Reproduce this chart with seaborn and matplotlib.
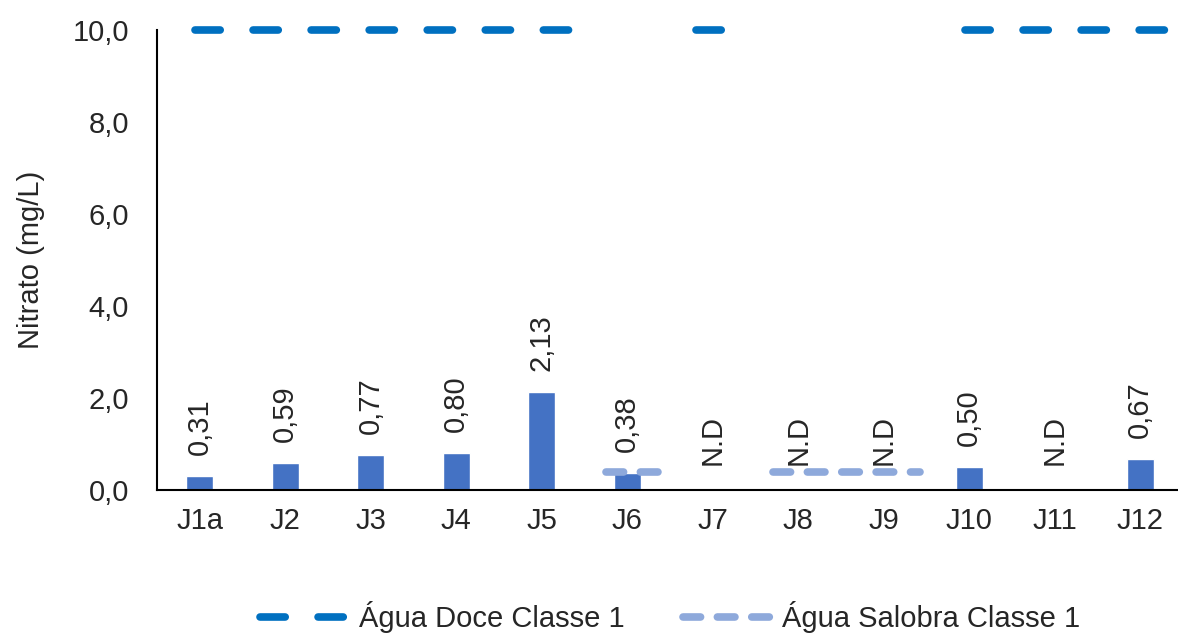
import numpy as np
import pandas as pd
import matplotlib
matplotlib.use("Agg")
import matplotlib.pyplot as plt
from matplotlib.lines import Line2D
import seaborn as sns

categories = ["J1a", "J2", "J3", "J4", "J5", "J6", "J7", "J8", "J9", "J10", "J11", "J12"]
nitrato = [0.31, 0.59, 0.77, 0.80, 2.13, 0.38, np.nan, np.nan, np.nan, 0.50, np.nan, 0.67]
doce_limit = [10, 10, 10, 10, 10, np.nan, 10, np.nan, np.nan, 10, 10, 10]
salobra_limit = [np.nan, np.nan, np.nan, np.nan, np.nan, 0.4, np.nan, 0.4, 0.4, np.nan, np.nan, np.nan]
yticks = [0, 2, 4, 6, 8, 10]

sns.set_style("white")
plt.rcParams["font.family"] = ["Liberation Sans", "DejaVu Sans"]

bar_color = "#4472C4"
doce_color = "#0070C0"
sal_color = "#8EA9DB"
FS = 21

fig = plt.figure(figsize=(11.78, 6.35), dpi=100)
ax = fig.add_axes([157 / 1178, 1 - 490 / 635, (1183 - 157) / 1178, 460 / 635])

df = pd.DataFrame({"cat": categories, "val": nitrato})
sns.barplot(data=df, x="cat", y="val", color=bar_color, width=0.31, saturation=1, ax=ax)


def runs(values, multi, single):
    """Split a series with gaps into contiguous runs, widened on each side."""
    xs, ys = [], []
    i = 0
    n = len(values)
    while i < n:
        if np.isnan(values[i]):
            i += 1
            continue
        j = i
        while j + 1 < n and not np.isnan(values[j + 1]):
            j += 1
        left, right = multi if j > i else single
        xs.append([i - left, j + right])
        ys.append([values[i], values[j]])
        i = j + 1
    return xs, ys


lw = 5.5
doce_dash = (3.3, 4.3)
sal_dash = (2.3, 2.2)
for xr, yr in zip(*runs(doce_limit, (0.05, 0.35), (0.2, 0.2))):
    ax.plot(xr, yr, color=doce_color, lw=lw, dashes=doce_dash,
            dash_capstyle="round", clip_on=False, zorder=3)
for xr, yr in zip(*runs(salobra_limit, (0.3, 0.42), (0.25, 0.42))):
    ax.plot(xr, yr, color=sal_color, lw=lw, dashes=sal_dash,
            dash_capstyle="round", clip_on=False, zorder=3)

for i, v in enumerate(nitrato):
    if np.isnan(v):
        ax.annotate("N.D", (i, 0), xytext=(0, 18), textcoords="offset points",
                    rotation=90, ha="center", va="bottom", fontsize=FS)
    else:
        ax.annotate(f"{v:.2f}".replace(".", ","), (i, v), xytext=(0, 15),
                    textcoords="offset points", rotation=90, ha="center",
                    va="bottom", fontsize=FS)

ax.set_xlim(-0.5, len(categories) - 0.5)
ax.set_ylim(0, 10)
ax.set_yticks(yticks)
ax.set_yticklabels([f"{t:.1f}".replace(".", ",") for t in yticks])
ax.tick_params(axis="y", length=0, pad=20, labelsize=FS)
ax.tick_params(axis="x", length=0, pad=12, labelsize=FS)
ax.set_xlabel("")
ax.set_ylabel("Nitrato (mg/L)", fontsize=FS, labelpad=20)

for s in ["top", "right"]:
    ax.spines[s].set_visible(False)
for s in ["left", "bottom"]:
    ax.spines[s].set_color("black")
    ax.spines[s].set_linewidth(1.5)

handles = [
    Line2D([], [], color=doce_color, lw=lw, dashes=doce_dash, dash_capstyle="round"),
    Line2D([], [], color=sal_color, lw=lw, dashes=sal_dash, dash_capstyle="round"),
]
fig.legend(handles, ["Água Doce Classe 1", "Água Salobra Classe 1"], loc="center",
           bbox_to_anchor=(670 / 1178, 1 - 617 / 635), ncol=2, frameon=False,
           fontsize=FS, handlelength=3.0, handletextpad=0.4, columnspacing=2.0)

fig.savefig("out.png", dpi=100)
